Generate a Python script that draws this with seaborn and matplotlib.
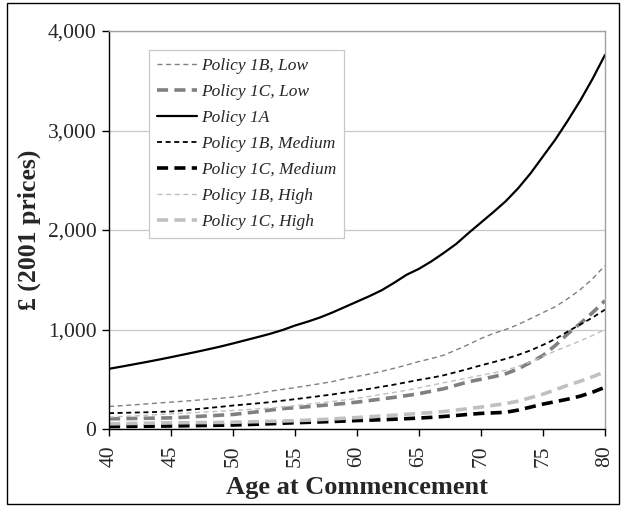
import numpy as np
import pandas as pd
import matplotlib
matplotlib.use("Agg")
import matplotlib.pyplot as plt
from matplotlib.patches import Rectangle
import seaborn as sns

ages = list(range(40, 81))

policy_1b_low = [226, 234, 243, 252, 261, 270, 279, 289, 299, 309, 320, 338, 358, 380, 398, 416, 435, 455, 476, 505,
                 528, 552, 580, 610, 643, 678, 708, 742, 795, 850, 910, 960, 1000, 1050, 1110, 1170, 1230, 1310, 1400, 1510, 1643]
policy_1c_low = [102, 104, 106, 108, 110, 112, 118, 125, 132, 139, 146, 160, 173, 190, 205, 214, 224, 235, 246, 257,
                 270, 286, 302, 318, 336, 355, 380, 405, 440, 475, 500, 525, 555, 605, 670, 739, 840, 957, 1060, 1170, 1290]
policy_1a = [605, 627, 650, 673, 697, 722, 748, 774, 801, 829, 860, 892, 924, 957, 995, 1040, 1078, 1120, 1170, 1225,
             1280, 1335, 1395, 1470, 1550, 1610, 1685, 1770, 1860, 1970, 2075, 2180, 2290, 2420, 2570, 2740, 2910, 3100, 3300, 3520, 3760]
policy_1b_medium = [159, 162, 165, 168, 172, 176, 187, 199, 211, 223, 236, 247, 258, 270, 285, 300, 315, 331, 347, 366,
                    385, 404, 425, 446, 470, 494, 515, 540, 572, 605, 640, 672, 705, 745, 790, 845, 905, 980, 1050, 1120, 1200]
policy_1c_medium = [25, 26, 27, 28, 29, 30, 32, 34, 36, 38, 40, 44, 48, 53, 58, 63, 67, 71, 75, 80,
                    85, 89, 93, 98, 104, 110, 117, 126, 136, 147, 157, 162, 168, 190, 220, 250, 275, 300, 330, 370, 420]
policy_1b_high = [119, 125, 131, 138, 145, 152, 159, 165, 172, 179, 186, 194, 202, 210, 222, 235, 249, 263, 277, 292,
                  308, 328, 348, 368, 390, 413, 440, 465, 490, 515, 540, 563, 590, 630, 675, 730, 785, 835, 885, 940, 1000]
policy_1c_high = [52, 54, 56, 58, 60, 62, 63, 64, 65, 66, 68, 71, 74, 77, 80, 84, 89, 95, 101, 108,
                  115, 123, 131, 139, 148, 157, 165, 175, 190, 205, 220, 238, 255, 280, 315, 350, 395, 440, 480, 525, 575]

series_names = ["Policy 1B, Low", "Policy 1C, Low", "Policy 1A", "Policy 1B, Medium",
                "Policy 1C, Medium", "Policy 1B, High", "Policy 1C, High"]
series_values = [policy_1b_low, policy_1c_low, policy_1a, policy_1b_medium,
                 policy_1c_medium, policy_1b_high, policy_1c_high]

x_ticks = list(range(40, 81, 5))
y_ticks = [0, 1000, 2000, 3000, 4000]

short_dash = (0, (3.6, 2.6))
long_dash = (0, (8.0, 4.5))
styles = {
    "Policy 1B, Low": dict(color="#808080", lw=1.0, ls=short_dash),
    "Policy 1C, Low": dict(color="#808080", lw=2.6, ls=long_dash),
    "Policy 1A": dict(color="#000000", lw=1.6, ls="-"),
    "Policy 1B, Medium": dict(color="#000000", lw=1.3, ls=short_dash),
    "Policy 1C, Medium": dict(color="#000000", lw=2.6, ls=long_dash),
    "Policy 1B, High": dict(color="#c0c0c0", lw=1.0, ls=short_dash),
    "Policy 1C, High": dict(color="#c0c0c0", lw=2.6, ls=long_dash),
}

df = pd.concat(
    [pd.DataFrame({"age": ages, "value": vals, "series": name})
     for name, vals in zip(series_names, series_values)],
    ignore_index=True,
)

sns.set_theme(style="white")
plt.rcParams["font.family"] = ["Liberation Serif", "DejaVu Serif"]
plt.rcParams["lines.scale_dashes"] = False

fig = plt.figure(figsize=(6.24, 5.07), dpi=100)
ax = fig.add_axes([109 / 624, 1 - 429 / 507, 496 / 624, 398 / 507])

for name in series_names:
    st = styles[name]
    sub = df[df["series"] == name]
    sns.lineplot(data=sub, x="age", y="value", ax=ax, color=st["color"],
                 linewidth=st["lw"], linestyle=st["ls"], label=name,
                 estimator=None, sort=False)

ax.set_xlim(40, 80)
ax.set_ylim(0, 4000)
ax.set_xticks(x_ticks)
ax.set_yticks(y_ticks)
ax.set_xticklabels([str(t) for t in x_ticks], rotation=90, fontsize=15.5)
ax.set_yticklabels([f"{t:,}" for t in y_ticks], fontsize=15.5)
ax.tick_params(axis="both", direction="out", length=5, width=1, color="black",
               bottom=True, left=True)
ax.tick_params(axis="x", pad=7)
ax.tick_params(axis="y", pad=4)

ax.yaxis.grid(True, color="#c8c8c8", linewidth=0.9)
ax.xaxis.grid(False)
ax.set_axisbelow(True)

for side in ["left", "bottom"]:
    ax.spines[side].set_color("black")
    ax.spines[side].set_linewidth(1.0)
for side in ["top", "right"]:
    ax.spines[side].set_color("#a0a0a0")
    ax.spines[side].set_linewidth(1.0)

ax.set_xlabel("Age at Commencement", fontsize=19, fontweight="bold", labelpad=6)
ax.set_ylabel("£ (2001 prices)", fontsize=18.5, fontweight="bold", labelpad=5)

leg = ax.legend(loc="upper left", bbox_to_anchor=(0.081, 0.952), borderaxespad=0,
                prop={"family": ["Liberation Serif"], "style": "italic", "size": 12.5},
                frameon=True, fancybox=False, edgecolor="#c8c8c8", framealpha=1,
                handlelength=2.3, handletextpad=0.25, labelspacing=0.57, borderpad=0.45)
leg.get_frame().set_linewidth(0.9)

fig.patches.append(Rectangle((7 / 624, 3 / 507), 612 / 624, 501 / 507,
                             transform=fig.transFigure, fill=False,
                             edgecolor="black", linewidth=1.0))

fig.savefig("out.png", dpi=100)
